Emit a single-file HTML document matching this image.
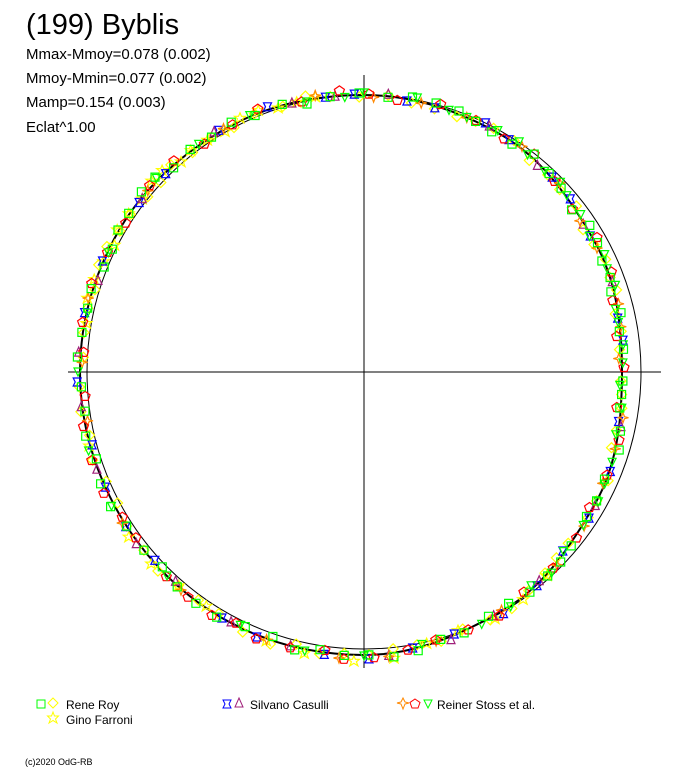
<!DOCTYPE html>
<html><head><meta charset="utf-8">
<style>
body{margin:0;background:#fff;width:688px;height:768px;overflow:hidden;font-family:"Liberation Sans",Arial,sans-serif}
svg{position:absolute;left:0;top:0}
</style></head>
<body>
<svg id="chart" width="688" height="768">
<text x="26" y="34" font-size="29">(199) Byblis</text>
<text x="26" y="59" font-size="15">Mmax-Mmoy=0.078 (0.002)</text>
<text x="26" y="83" font-size="15">Mmoy-Mmin=0.077 (0.002)</text>
<text x="26" y="107" font-size="15">Mamp=0.154 (0.003)</text>
<text x="26" y="132" font-size="15">Eclat^1.00</text>
<line x1="68" y1="372" x2="661" y2="372" stroke="#000"/>
<line x1="364" y1="75" x2="364" y2="668" stroke="#000"/>
<circle cx="364" cy="372" r="277" fill="none" stroke="#000" stroke-width="1"/>
<g id="fit"></g>
<g id="marks"></g>
<g font-size="12">
<rect x="37" y="700" width="8" height="8" fill="none" stroke="#0f0"/>
<path d="M53 698 l5 5 l-5 5 l-5 -5z" fill="none" stroke="#ff0"/>
<text x="66" y="709">Rene Roy</text>
<path d="M53 712 l1.5 4 l4 0 l-3 3 l1.5 4 l-4 -2.5 l-4 2.5 l1.5 -4 l-3 -3 l4 0z" fill="none" stroke="#ff0"/>
<text x="66" y="724">Gino Farroni</text>
<path d="M223 700 l8 0 l-2 4 l2 4 l-8 0 l2 -4z" fill="none" stroke="#00f"/>
<path d="M239 698 l4 9 l-8 0z" fill="none" stroke="#a0207a"/>
<text x="250" y="709">Silvano Casulli</text>
<path d="M403 698 l2 4 l4 1 l-4 1 l-2 5 l-2 -5 l-4 -1 l4 -1z" fill="none" stroke="#f80"/>
<path d="M415 699 l5 3.5 l-2 5.5 l-6 0 l-2 -5.5z" fill="none" stroke="#f00"/>
<path d="M424 700 l8 0 l-4 8z" fill="none" stroke="#0f0"/>
<text x="437" y="709">Reiner Stoss et al.</text>
</g>
<text x="25" y="765" font-size="9">(c)2020 OdG-RB</text>
</svg>
<script>
// fit curve radii (px) at angles 0,30,...,330 deg
const fitAngles=[0,30,60,90,120,150,180,210,240,270,300,330];
const fitRadii=[258,265,274,277,280,283,284,283,284,283,276,266];
// observation series: phase angles (deg) and residuals (px)
const royAng=[5,18,33,47,62,80,97,113,128,141,158,172,188,203,219,234,251,266,281,297,312,327,343,355,25,70,150,245,320,9,13,21,29,38,43,52,57,66,75,85,91,102,107,118,123,133,137,146,154,163,167,177,183,193,198,208,213,224,229,239,256,261,271,276,286,291,302,307,316,331,336,347,352,358];
const royRes=[2,-3,4,1,-2,3,0,-1,2,4,-3,1,-2,3,0,2,-4,1,3,-2,2,-1,4,0,-2,3,1,-3,2,-1,3,0,2,-3,1,4,-2,0,3,-1,2,-4,1,3,0,-2,4,1,-3,2,0,3,-1,2,-2,4,0,-3,1,2,3,-2,0,4,-1,2,-3,1,3,0,-2,2,-1,1];
const ginoAng=[100,108,116,124,131,138,146,153,161,222,236,258,276,290,305,104,112,120,128,135,142,150,157,165,170,195,215,229,250,268,283,298,312];
const ginoRes=[2,-1,3,0,-2,4,1,-3,2,3,-2,4,5,-3,2,0,3,-2,1,4,-1,2,0,3,-2,1,4,-1,2,6,-2,3,1];
const silAng=[12,40,58,75,92,110,135,168,195,213,240,262,280,300,318,338,7,31,46,64,81,98,121,143,157,182,204,222,248,271,289,309,327,349];
const silRes=[-1,2,0,-2,1,3,-1,2,-2,1,0,2,-1,3,-2,1,2,-1,1,3,-2,0,2,-1,1,3,0,-2,2,4,-1,1,2,-1];
const triAng=[20,50,85,105,142,176,200,228,255,288,310,348,34,63,96,122,161,187,217,242,275,298,330];
const triRes=[1,-2,2,0,-1,2,1,-2,0,3,-1,2,-1,2,0,3,-2,1,2,-1,2,0,1];
const orgAng=[3,15,28,44,68,88,120,165,190,230,265,285,315,335,350,10,35,55,78,100,140,178,212,250,275,300,325,343];
const orgRes=[-3,2,-1,3,0,-2,1,2,-3,1,4,-1,2,-2,3,1,-2,2,-1,3,0,-2,2,1,3,-1,2,0];
const pentAng=[8,22,38,52,66,83,95,118,132,148,170,185,198,216,232,248,262,272,292,306,322,337,352,1,16,30,45,59,74,89,103,112,125,139,155,162,176,191,205,211,226,238,243,255,266,279,285,299,314,329,345];
const pentRes=[-4,3,-2,4,1,-3,5,0,3,-2,2,-4,3,-1,2,4,-2,3,1,-3,2,-1,-4,2,-3,4,0,-2,3,1,-1,4,-2,2,0,3,-3,2,4,-1,1,3,-2,2,5,0,-2,3,1,-3,2];
const dtriAng=[2,14,26,36,48,56,72,90,102,126,155,180,208,244,270,295,308,325,340,357,6,11,19,23,31,41,44,53,61,68,79,94,114,137,168,196,226,258,282,302,313,318,331,335,346,352];
const dtriRes=[1,-2,3,2,-1,4,0,2,-2,1,-1,2,3,-2,1,2,-3,1,0,-2,2,-1,3,0,-2,1,4,-1,2,0,3,-2,1,2,-1,3,0,2,-2,1,3,-1,2,0,-2,1];

const CX=364,CY=372,NS="http://www.w3.org/2000/svg";
function fitR(a){a=((a%360)+360)%360;const i=Math.floor(a/30),f=(a-i*30)/30;
const r0=fitRadii[i],r1=fitRadii[(i+1)%12];return r0+(r1-r0)*(1-Math.cos(f*Math.PI))/2;}
function px(a,r){const t=a*Math.PI/180;return [CX+r*Math.cos(t),CY-r*Math.sin(t)];}
let d="";for(let a=0;a<=360;a+=2){const p=px(a,fitR(a));d+=(a?"L":"M")+p[0].toFixed(1)+" "+p[1].toFixed(1);}
const fp=document.createElementNS(NS,"path");


fp.setAttribute("d",d);fp.setAttribute("fill","none");fp.setAttribute("stroke","#000");fp.setAttribute("stroke-width","2");
document.getElementById("fit").appendChild(fp);
const shapes={
sq:"M-4 -4h8v8h-8z",
dia:"M0 -5l5 5l-5 5l-5 -5z",
star:"M0 -5l1.5 3.5l4 0l-3 2.5l1.5 4l-4 -2.5l-4 2.5l1.5 -4l-3 -2.5l4 0z",
bstar:"M-4 -4l8 0l-2 4l2 4l-8 0l2 -4z",
tri:"M0 -5l4 9l-8 0z",
ostar:"M0 -5l1.5 4l4 1l-4 1l-1.5 4l-1.5 -4l-4 -1l4 -1z",
pent:"M0 -5l5 3.5l-2 5.5l-6 0l-2 -5.5z",
dtri:"M-4 -4l8 0l-4 8z"};
const g=document.getElementById("marks");
function plot(angs,res,shape,col,name){angs.forEach((a,i)=>{const p=px(a,fitR(a)+res[i]);
const e=document.createElementNS(NS,"path");


e.setAttribute("d",shapes[shape]);e.setAttribute("transform","translate("+p[0].toFixed(1)+","+p[1].toFixed(1)+")");
e.setAttribute("fill","none");e.setAttribute("stroke",col);e.setAttribute("stroke-width","1.2");g.appendChild(e);});}
plot(ginoAng,ginoRes,"star","#ff0","gino-farroni-point");
plot(royAng,royRes.map(v=>-v),"dia","#ff0","rene-roy-diamond-point");
plot(silAng,silRes,"bstar","#00f","silvano-casulli-point");
plot(triAng,triRes,"tri","#a0207a","silvano-casulli-triangle-point");
plot(orgAng,orgRes,"ostar","#f80","reiner-stoss-star-point");
plot(pentAng,pentRes,"pent","#f00","reiner-stoss-pentagon-point");
plot(dtriAng,dtriRes,"dtri","#0f0","reiner-stoss-triangle-point");
plot(royAng,royRes,"sq","#0f0","rene-roy-square-point");
</script>
</body></html>
